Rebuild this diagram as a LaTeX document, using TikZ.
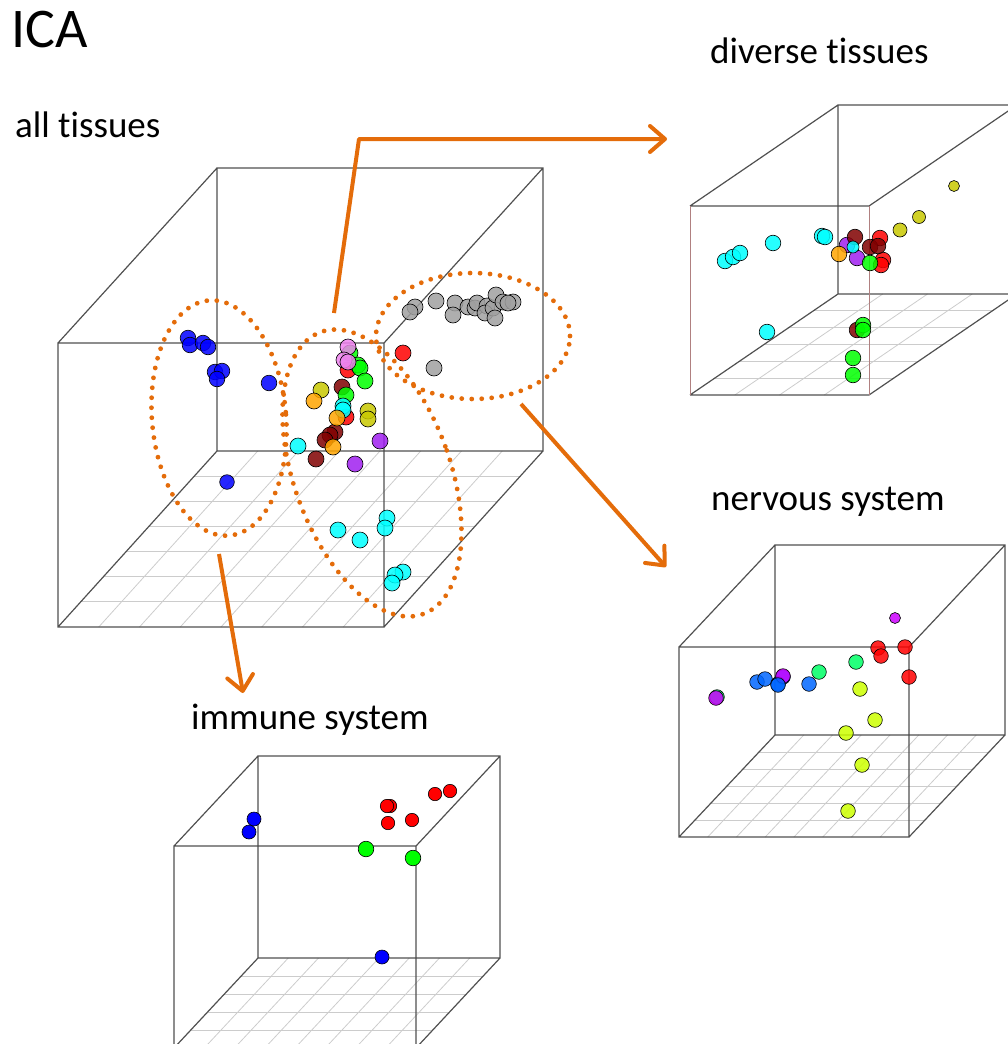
\documentclass[tikz,border=0pt]{standalone}
\usepackage{fontspec}
\setmainfont{Carlito}[Ligatures=NoCommon]
\usetikzlibrary{arrows.meta,calc}
\definecolor{accent}{HTML}{E46C0A}
\definecolor{edge}{HTML}{505050}
\definecolor{pinkedge}{HTML}{B08080}
\definecolor{gridgray}{HTML}{CCCCCC}
\definecolor{ptolive}{HTML}{C8C800}
\definecolor{ptmaroon}{HTML}{800000}
\definecolor{ptpurple}{HTML}{A020F0}
\definecolor{ptviolet}{HTML}{EE82EE}
\definecolor{ptorange}{HTML}{FFA500}
\definecolor{ptgray}{HTML}{A0A0A0}
\definecolor{ptcyan}{HTML}{00FFFF}
\definecolor{ptblue}{HTML}{0000FF}
\definecolor{ptred}{HTML}{FF0000}
\definecolor{ptgreen}{HTML}{00FF00}
\definecolor{ptazure}{HTML}{0066FF}
\definecolor{ptspring}{HTML}{00FF66}
\definecolor{ptlime}{HTML}{CCFF00}
\definecolor{ptmagenta}{HTML}{CC00FF}

\begin{document}
\begin{tikzpicture}[x=1pt,y=-1pt,
  lbl/.style={inner sep=0pt,anchor=base west,font=\fontsize{37}{44}\selectfont},
  box/.style={draw=edge,line width=1.2pt},
  grid/.style={draw=gridgray,line width=0.8pt},
  grp/.style={draw=accent,line width=4.8pt,line cap=round,dash pattern=on 0pt off 10pt},
  arr/.style={draw=accent,line width=4pt,line join=round,-{Straight Barb[length=15pt,width=26pt,round]}},
  pt/.style={draw=black,line width=0.6pt,fill opacity=0.85}]
  \useasboundingbox (0,0) rectangle (1008,1044);
  \clip (0,0) rectangle (1008,1044);

  % labels
  \node[lbl,font=\fontsize{56}{64}\selectfont] (title) at (11,47) {ICA};
  \node[lbl] (allT) at (15,137) {all tissues};
  \node[lbl] (divT) at (710,63) {diverse tissues};
  \node[lbl] (nerT) at (711,510) {nervous system};
  \node[lbl] (immT) at (191,729) {immune system};

  % all tissues: floor grid and box
  \coordinate (mFL) at (58,627); \coordinate (mFR) at (384,627);
  \coordinate (mBL) at (217,451); \coordinate (mBR) at (543,451);
  \foreach \k in {1,...,6} \draw[grid] ($(mFL)!\k/7!(mBL)$) -- ($(mFR)!\k/7!(mBR)$);
  \foreach \k in {1,...,7} \draw[grid] ($(mFL)!\k/8!(mFR)$) -- ($(mBL)!\k/8!(mBR)$);
  \draw[box] (58,343) rectangle (384,627) (217,168) rectangle (543,451)
    (58,343) -- (217,168) (384,343) -- (543,168) (mFL) -- (mBL) (mFR) -- (mBR);

  \foreach \x/\y in {188/338,190/345,203/343,208/347,215/372,222/371,217/379,269/383}
    \draw[pt,fill=ptblue] (\x,\y) circle (7.8pt);
  \draw[pt,fill=ptblue] (227,482) circle (7.3pt);
  \foreach \x/\y in {415/307,410/312,436/301,455/303,453/315,468/307,475/308,477/303,487/306,
    485/313,493/308,496/295,495/318,503/302,513/302,508/303,434/368}
    \draw[pt,fill=ptgray] (\x,\y) circle (8pt);
  \foreach \x/\y in {342/387,335/432,330/435,325/440,316/459}
    \draw[pt,fill=ptmaroon] (\x,\y) circle (8pt);
  \foreach \x/\y in {348/370,346/417,403/353}
    \draw[pt,fill=ptred] (\x,\y) circle (8pt);
  \foreach \x/\y in {350/353,358/365,360/368,365/381,346/395}
    \draw[pt,fill=ptgreen] (\x,\y) circle (8pt);
  \foreach \x/\y in {348/347,344/360,348/362}
    \draw[pt,fill=ptviolet] (\x,\y) circle (8pt);
  \foreach \x/\y in {321/390,368/411,368/419}
    \draw[pt,fill=ptolive] (\x,\y) circle (8pt);
  \foreach \x/\y in {343/406,343/410,298/446,338/530,360/540,387/518,385/528,403/572,395/575,392/583}
    \draw[pt,fill=ptcyan] (\x,\y) circle (8pt);
  \foreach \x/\y in {314/401,337/418,333/447}
    \draw[pt,fill=ptorange] (\x,\y) circle (8pt);
  \foreach \x/\y in {380/441,355/464}
    \draw[pt,fill=ptpurple] (\x,\y) circle (8pt);

  % groups
  \draw[grp,rotate around={5:(219,418)}] (219,418) ellipse [x radius=67pt,y radius=118pt];
  \draw[grp,rotate around={20:(372,473)}] (372,473) ellipse [x radius=78pt,y radius=150pt];
  \draw[grp] (473,336) ellipse [x radius=97pt,y radius=63pt];

  % diverse tissues
  \coordinate (dFL) at (690,395); \coordinate (dFR) at (869,395);
  \coordinate (dBL) at (838,294); \coordinate (dBR) at (1017,294);
  \foreach \k in {1,...,5} \draw[grid] ($(dFL)!\k/6!(dBL)$) -- ($(dFR)!\k/6!(dBR)$);
  \foreach \k in {1,...,3} \draw[grid] ($(dFL)!\k/4!(dFR)$) -- ($(dBL)!\k/4!(dBR)$);
  \draw[box] (690,206) -- (869,206) (dFL) -- (dFR) (838,105) rectangle (1017,294)
    (690,206) -- (838,105) (869,206) -- (1017,105) (dFL) -- (dBL) (dFR) -- (dBR);
  \draw[box,draw=pinkedge,line width=0.9pt] (690,206) -- (dFL) (869,206) -- (dFR);

  \foreach \x/\y in {725/261,733/257,740/253,773/243,822/236,825/237,767/332}
    \draw[pt,fill=ptcyan] (\x,\y) circle (7.8pt);
  \draw[pt,fill=ptolive] (954,186) circle (5.5pt);
  \draw[pt,fill=ptolive] (919,217) circle (6.5pt);
  \draw[pt,fill=ptolive] (900,230) circle (7pt);
  \foreach \x/\y in {880/238,883/260,881/265}
    \draw[pt,fill=ptred] (\x,\y) circle (7.8pt);
  \foreach \x/\y in {847/245,857/258}
    \draw[pt,fill=ptpurple] (\x,\y) circle (7.8pt);
  \draw[pt,fill=ptorange] (839,254) circle (7.8pt);
  \foreach \x/\y in {855/237,870/247,878/246,857/330}
    \draw[pt,fill=ptmaroon] (\x,\y) circle (7.8pt);
  \draw[pt,fill=ptcyan] (853,247) circle (6pt);
  \foreach \x/\y in {870/263,863/325,863/330,853/358,853/375}
    \draw[pt,fill=ptgreen] (\x,\y) circle (7.8pt);

  % nervous system
  \coordinate (nFL) at (679,837); \coordinate (nFR) at (909,837);
  \coordinate (nBL) at (775,735); \coordinate (nBR) at (1005,735);
  \foreach \k in {1,...,5} \draw[grid] ($(nFL)!\k/6!(nBL)$) -- ($(nFR)!\k/6!(nBR)$);
  \foreach \k in {1,...,7} \draw[grid] ($(nFL)!\k/8!(nFR)$) -- ($(nBL)!\k/8!(nBR)$);
  \draw[box] (679,647) rectangle (909,837) (775,545) rectangle (1005,735)
    (679,647) -- (775,545) (909,647) -- (1005,545) (nFL) -- (nBL) (nFR) -- (nBR);

  \draw[pt,fill=ptmagenta] (895,618) circle (5.5pt);
  \foreach \x/\y in {878/648,881/656,905/647,909/677}
    \draw[pt,fill=ptred] (\x,\y) circle (7.3pt);
  \foreach \x/\y in {856/662,819/672,717/697}
    \draw[pt,fill=ptspring] (\x,\y) circle (7.3pt);
  \foreach \x/\y in {860/689,875/720,846/733,862/765,848/811}
    \draw[pt,fill=ptlime] (\x,\y) circle (7.3pt);
  \foreach \x/\y in {809/684,757/682,765/679,783/677,778/684}
    \draw[pt,fill=ptazure] (\x,\y) circle (7.3pt);
  \foreach \x/\y in {783/676,716/698}
    \draw[pt,fill=ptmagenta] (\x,\y) circle (7.3pt);
  \draw[pt,fill=ptazure] (778,685) circle (7.3pt);

  % immune system
  \coordinate (iFL) at (174,1048); \coordinate (iFR) at (416,1048);
  \coordinate (iBL) at (258,958); \coordinate (iBR) at (500,958);
  \foreach \k in {1,...,4} \draw[grid] ($(iFL)!\k/5!(iBL)$) -- ($(iFR)!\k/5!(iBR)$);
  \foreach \k in {1,...,7} \draw[grid] ($(iFL)!\k/8!(iFR)$) -- ($(iBL)!\k/8!(iBR)$);
  \draw[box] (174,846) rectangle (416,1048) (258,756) rectangle (500,958)
    (174,846) -- (258,756) (416,846) -- (500,756) (iFL) -- (iBL) (iFR) -- (iBR);

  \foreach \x/\y in {254/819,249/832,382/957}
    \draw[pt,fill=ptblue,fill opacity=1] (\x,\y) circle (7pt);
  \foreach \x/\y in {390/806,387/806,388/823,412/820,435/794,450/791}
    \draw[pt,fill=ptred,fill opacity=1] (\x,\y) circle (6.7pt);
  \foreach \x/\y in {366/849,413/858}
    \draw[pt,fill=ptgreen,fill opacity=1] (\x,\y) circle (7.8pt);

  % arrows
  \coordinate (dvS) at (334,313); \coordinate (dvK) at (359,139); \coordinate (dvE) at (667,139);
  \coordinate (nvS) at (521,404); \coordinate (nvE) at (666,567);
  \coordinate (imS) at (219,554); \coordinate (imE) at (243,693);
  \draw[arr] (dvS) -- (dvK) -- (dvE);
  \draw[arr] (nvS) -- (nvE);
  \draw[arr] (imS) -- (imE);
\end{tikzpicture}
\end{document}
